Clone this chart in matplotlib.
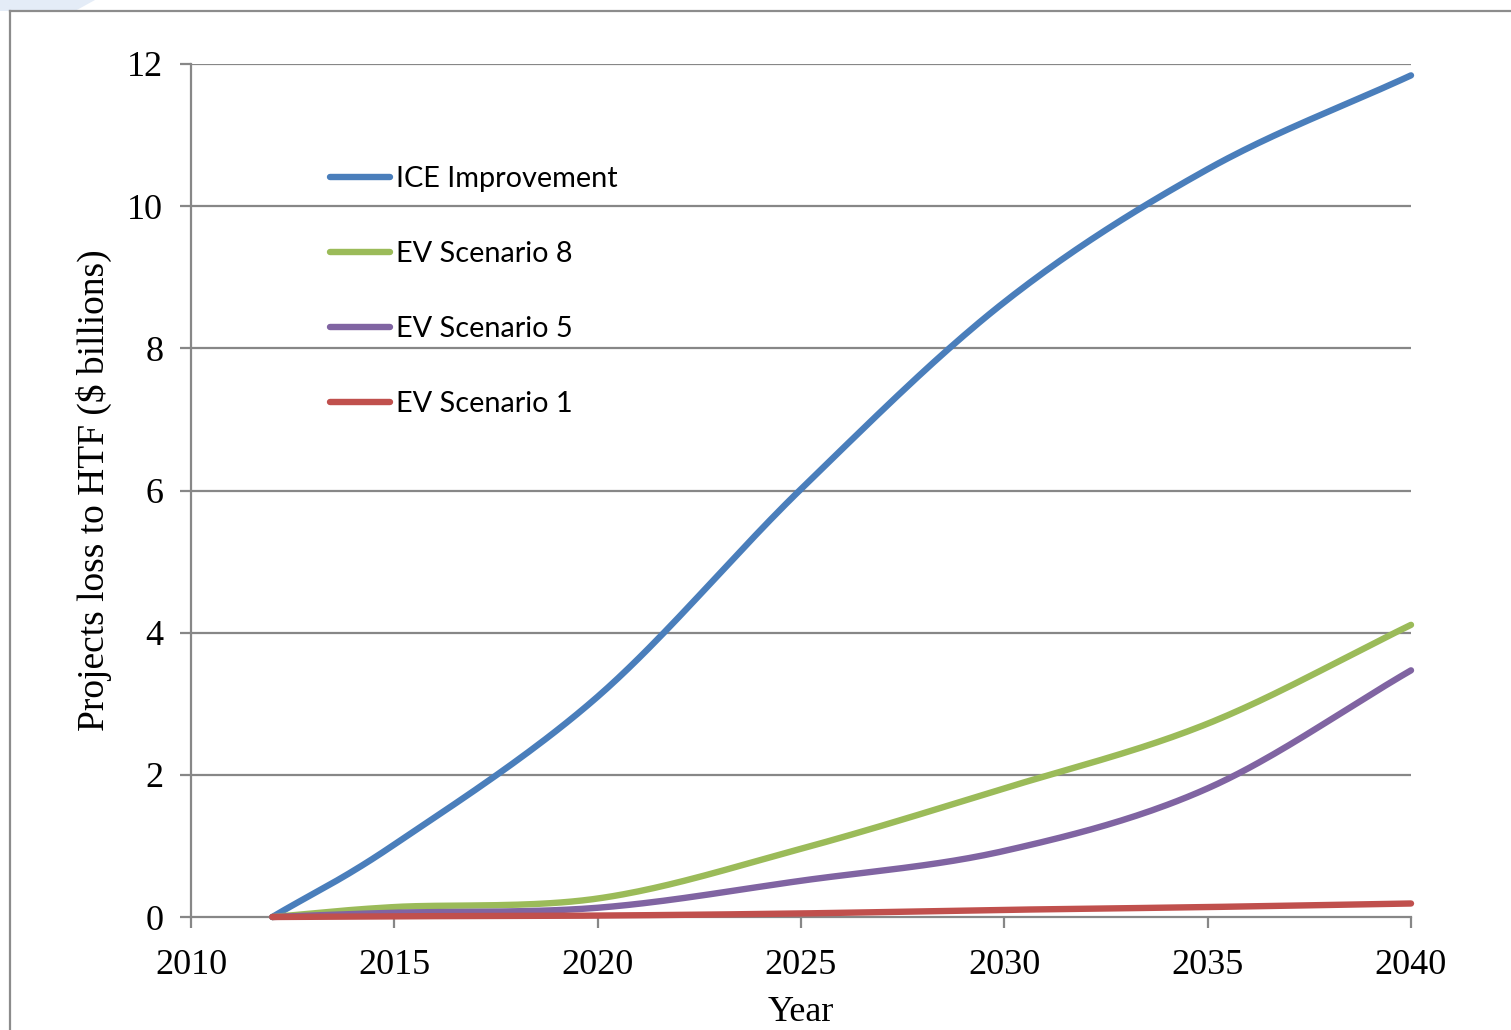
import matplotlib
matplotlib.use("Agg")
import matplotlib.pyplot as plt
from matplotlib.patches import Polygon
import numpy as np

years = [2012, 2015, 2020, 2025, 2030, 2035, 2040]

ice_improvement = [0.00, 1.02, 3.10, 6.02, 8.65, 10.52, 11.84]
ev_scenario_8 = [0.00, 0.14, 0.26, 0.96, 1.81, 2.72, 4.11]
ev_scenario_5 = [0.00, 0.06, 0.13, 0.51, 0.93, 1.81, 3.47]
ev_scenario_1 = [0.00, 0.01, 0.02, 0.05, 0.10, 0.14, 0.19]

series_names = ["ICE Improvement", "EV Scenario 8", "EV Scenario 5", "EV Scenario 1"]
series_colors = ["#4a7ebb", "#9bbb59", "#8064a2", "#c0504d"]

x_ticks = [2010, 2015, 2020, 2025, 2030, 2035, 2040]
y_ticks = [0, 2, 4, 6, 8, 10, 12]


def smooth(xs, ys, n=40):
    """Catmull-Rom smoothing through the data points (like a smoothed line chart)."""
    xs = np.asarray(xs, float)
    ys = np.asarray(ys, float)
    px = np.concatenate([[2 * xs[0] - xs[1]], xs, [2 * xs[-1] - xs[-2]]])
    py = np.concatenate([[2 * ys[0] - ys[1]], ys, [2 * ys[-1] - ys[-2]]])
    ox, oy = [], []
    for i in range(1, len(px) - 2):
        t = np.linspace(0, 1, n, endpoint=False)
        for arr, out in ((px, ox), (py, oy)):
            p0, p1, p2, p3 = arr[i - 1], arr[i], arr[i + 1], arr[i + 2]
            out.extend(0.5 * ((2 * p1) + (-p0 + p2) * t
                              + (2 * p0 - 5 * p1 + 4 * p2 - p3) * t ** 2
                              + (-p0 + 3 * p1 - 3 * p2 + p3) * t ** 3))
    ox.append(xs[-1])
    oy.append(ys[-1])
    return np.array(ox), np.array(oy)


W, H = 1511, 1030
fig = plt.figure(figsize=(W / 100, H / 100), dpi=100)
fig.patch.set_facecolor("white")

# slide frame and faint background corner
fig.patches.append(Polygon([(0, 1), (95 / W, 1), (75 / W, 1 - 11 / H), (0, 1 - 11 / H)],
                           closed=True, transform=fig.transFigure,
                           facecolor="#e4ecf7", edgecolor="none", zorder=0))
fig.lines.append(plt.Line2D([10 / W, 1], [1 - 11 / H, 1 - 11 / H], transform=fig.transFigure,
                            color="#8c8c8c", lw=1.6))
fig.lines.append(plt.Line2D([10 / W, 10 / W], [0, 1 - 11 / H], transform=fig.transFigure,
                            color="#8c8c8c", lw=1.6))

ax = fig.add_axes([191 / W, (H - 917) / H, (1411 - 191) / W, (917 - 64) / H])
ax.set_xlim(2010, 2040)
ax.set_ylim(0, 12)

grid_color = "#878787"
for v in y_ticks[1:]:
    ax.axhline(v, color=grid_color, lw=1.6, zorder=1)

for name, vals, col in zip(series_names,
                           [ice_improvement, ev_scenario_8, ev_scenario_5, ev_scenario_1],
                           series_colors):
    sx, sy = smooth(years, vals)
    ax.plot(sx, sy, color=col, lw=4.6, solid_capstyle="round", label=name, zorder=3,
            clip_on=False)

for side in ("top", "right"):
    ax.spines[side].set_visible(False)
for side in ("left", "bottom"):
    ax.spines[side].set_color(grid_color)
    ax.spines[side].set_linewidth(1.6)
    ax.spines[side].set_zorder(2)

serif = ["Liberation Serif", "DejaVu Serif"]
ax.set_xticks(x_ticks)
ax.set_yticks(y_ticks)
ax.set_xticklabels([str(t) for t in x_ticks], family=serif, fontsize=26)
ax.set_yticklabels([str(t) for t in y_ticks], family=serif, fontsize=26)
ax.tick_params(axis="both", direction="out", length=8, width=1.6, color=grid_color,
               labelcolor="black")
ax.tick_params(axis="x", pad=15)
ax.tick_params(axis="y", pad=12)

ax.set_xlabel("Year", family=serif, fontsize=26, labelpad=10)
ax.set_ylabel("Projects loss to HTF ($ billions)", family=serif, fontsize=27, labelpad=11)

leg = ax.legend(loc="upper left", bbox_to_anchor=(0.1139, 0.8803), frameon=False,
                prop={"family": ["Lato", "DejaVu Sans"], "size": 20.75},
                handlelength=2.1, handletextpad=0.2, labelspacing=1.70,
                borderaxespad=0, borderpad=0)
for line in leg.get_lines():
    line.set_linewidth(4.6)
    line.set_solid_capstyle("round")

fig.savefig("out.png", dpi=100, facecolor="white")
